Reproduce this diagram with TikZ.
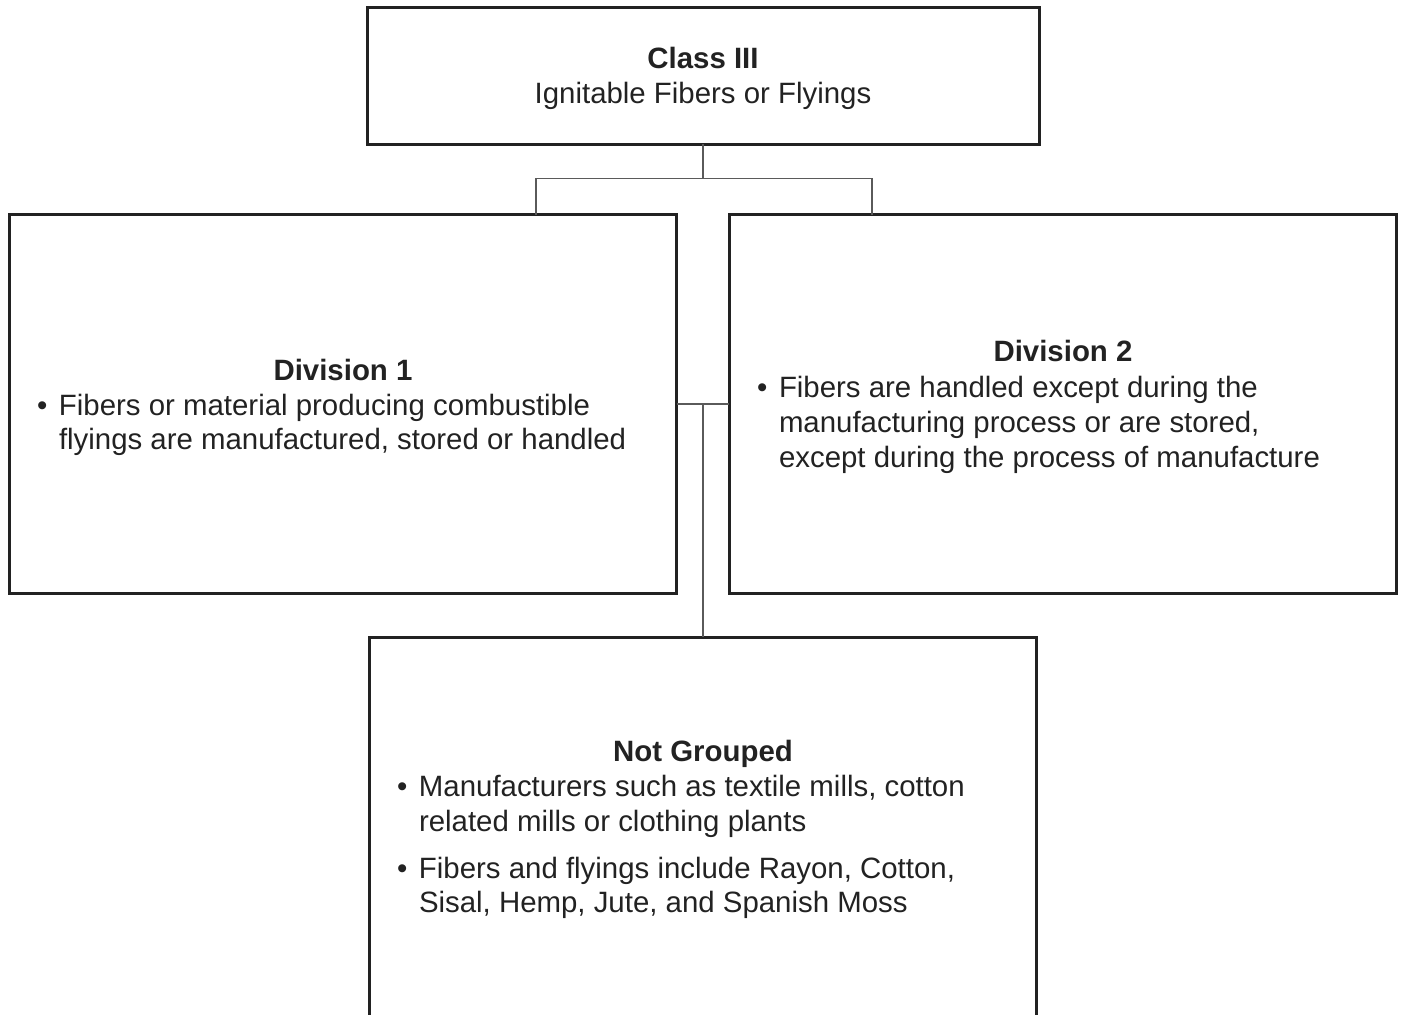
\documentclass[tikz,border=0pt]{standalone}
\usepackage{fontspec}
\setmainfont{Liberation Sans}
\definecolor{ink}{HTML}{222222}
\definecolor{wire}{HTML}{5A5A5A}
\newcommand\bul{\makebox[11pt][l]{\textbullet}}
\begin{document}
\begin{tikzpicture}[x=0.5pt,y=-0.5pt,
  box/.style={draw=ink,line width=1.5pt,inner sep=0pt,outer sep=0pt,fill=none},
  wirepath/.style={draw=wire,line width=0.8pt},
  txt/.style={inner sep=0pt,outer sep=0pt,text=ink,font=\fontsize{14.7}{17.5}\selectfont},
  hd/.style={txt,font=\fontsize{14.7}{17.5}\selectfont\bfseries,anchor=base},
  ln/.style={txt,anchor=base west}]
\useasboundingbox (0,0) rectangle (1403,1014);
\clip (0,0) rectangle (1403,1014);
% boxes
\node[box,minimum width=336pt,minimum height=68.5pt] (top) at (703,75.5) {};
\node[box,minimum width=333.75pt,minimum height=189.25pt] (d1) at (342.75,403.75) {};
\node[box,minimum width=333.75pt,minimum height=189.25pt] (d2) at (1062.75,403.75) {};
\node[box,minimum width=333.5pt,minimum height=196.5pt] (ng) at (702.75,833.5) {};
% connectors
\coordinate (j1) at (536,178.5);
\coordinate (j2) at (872,178.5);
\coordinate (m) at (703,403.75);
\draw[wirepath] (top.south) -- (top.south |- j1);
\draw[wirepath] (d1.north -| j1) -- (j1) -- (j2) -- (d2.north -| j2);
\draw[wirepath] (d1.east |- m) -- (d2.west |- m);
\draw[wirepath] (m) -- (m |- ng.north);
% top text
\node[hd] (t1) at (703,68) {Class III};
\node[txt,anchor=base] (t2) at (703,103) {Ignitable Fibers or Flyings};
% division 1
\node[hd] (a0) at (343,380) {Division 1};
\node[ln] (a1) at (37,415) {\bul Fibers or material producing combustible};
\node[ln] (a2) at (59,449) {flyings are manufactured, stored or handled};
% division 2
\node[hd] (b0) at (1063,361) {Division 2};
\node[ln] (b1) at (757,397) {\bul Fibers are handled except during the};
\node[ln] (b2) at (779,432) {manufacturing process or are stored,};
\node[ln] (b3) at (779,467) {except during the process of manufacture};
% not grouped
\node[hd] (c0) at (703,761) {Not Grouped};
\node[ln] (c1) at (397,796) {\bul Manufacturers such as textile mills, cotton};
\node[ln] (c2) at (419,831) {related mills or clothing plants};
\node[ln] (c3) at (397,878) {\bul Fibers and flyings include Rayon, Cotton,};
\node[ln] (c4) at (419,912) {Sisal, Hemp, Jute, and Spanish Moss};
\end{tikzpicture}
\end{document}
